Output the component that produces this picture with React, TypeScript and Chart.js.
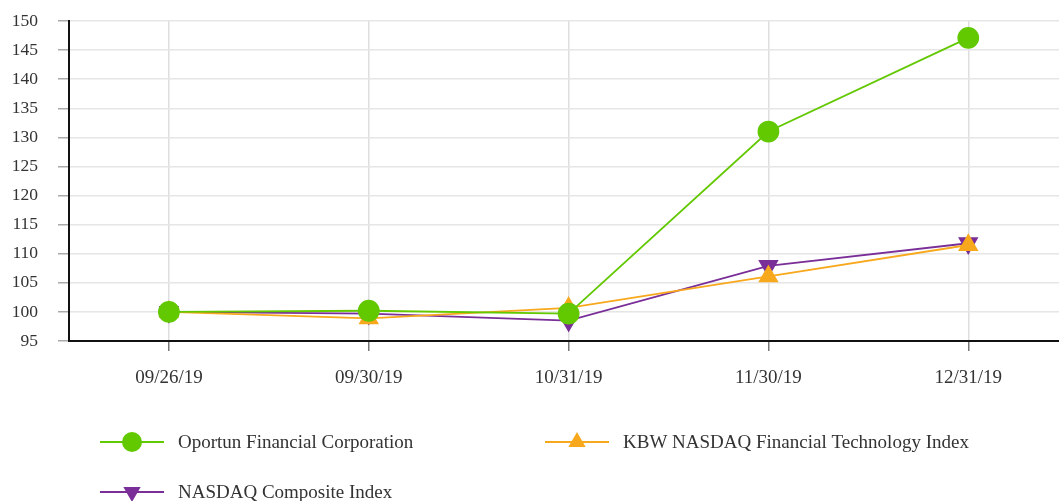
import React, { useEffect, useRef } from "react";
import { Chart, registerables } from "chart.js";

Chart.register(...registerables);

const categories = ["09/26/19", "09/30/19", "10/31/19", "11/30/19", "12/31/19"];
const oportun = [100, 100.2, 99.7, 131.0, 147.1];
const kbw = [100, 98.9, 100.7, 106.1, 111.5];
const nasdaq = [100, 99.7, 98.5, 107.9, 111.8];
const seriesNames = [
  "Oportun Financial Corporation",
  "KBW NASDAQ Financial Technology Index",
  "NASDAQ Composite Index",
];

const FONT = "'Liberation Serif', 'Times New Roman', serif";
const GREEN = "#62c800";
const ORANGE = "#f8a81c";
const PURPLE = "#7a2f98";

const legendPositions = [
  { x: 100, y: 442 },
  { x: 545, y: 442 },
  { x: 100, y: 492 },
];

const customLegend = {
  id: "customLegend",
  afterDraw(chart: any) {
    const ctx = chart.ctx;
    chart.data.datasets.forEach((ds: any, i: number) => {
      const p = legendPositions[i];
      ctx.save();
      ctx.strokeStyle = ds.borderColor;
      ctx.lineWidth = 2;
      ctx.beginPath();
      ctx.moveTo(p.x, p.y);
      ctx.lineTo(p.x + 64, p.y);
      ctx.stroke();
      ctx.fillStyle = ds.pointBackgroundColor;
      const cx = p.x + 32;
      const r = ds.pointRadius;
      ctx.beginPath();
      if (ds.pointStyle === "circle") {
        ctx.arc(cx, p.y, r, 0, Math.PI * 2);
      } else {
        const rot = ((ds.pointRotation || 0) * Math.PI) / 180;
        let a = rot;
        ctx.moveTo(cx + Math.sin(a) * r, p.y - Math.cos(a) * r);
        a += (2 * Math.PI) / 3;
        ctx.lineTo(cx + Math.sin(a) * r, p.y - Math.cos(a) * r);
        a += (2 * Math.PI) / 3;
        ctx.lineTo(cx + Math.sin(a) * r, p.y - Math.cos(a) * r);
        ctx.closePath();
      }
      ctx.fill();
      ctx.fillStyle = "#333";
      ctx.font = `19px ${FONT}`;
      ctx.textBaseline = "middle";
      ctx.textAlign = "left";
      ctx.fillText(ds.label, p.x + 78, p.y + 1);
      ctx.restore();
    });
  },
};

export default function App() {
  const ref = useRef<HTMLCanvasElement>(null);
  useEffect(() => {
    if (!ref.current) return;
    const chart = new Chart(ref.current, {
      type: "line",
      data: {
        labels: categories,
        datasets: [
          {
            label: seriesNames[0],
            data: oportun,
            borderColor: GREEN,
            backgroundColor: GREEN,
            pointBackgroundColor: GREEN,
            pointBorderColor: GREEN,
            pointStyle: "circle",
            pointRadius: 10,
            borderWidth: 1.8,
          },
          {
            label: seriesNames[1],
            data: kbw,
            borderColor: ORANGE,
            backgroundColor: ORANGE,
            pointBackgroundColor: ORANGE,
            pointBorderColor: ORANGE,
            pointStyle: "triangle",
            pointRadius: 10,
            borderWidth: 1.8,
          },
          {
            label: seriesNames[2],
            data: nasdaq,
            borderColor: PURPLE,
            backgroundColor: PURPLE,
            pointBackgroundColor: PURPLE,
            pointBorderColor: PURPLE,
            pointStyle: "triangle",
            pointRotation: 180,
            pointRadius: 10,
            borderWidth: 1.8,
          },
        ] as any,
      },
      options: {
        animation: false,
        responsive: false,
        layout: { padding: { left: 0, top: 21, right: 11, bottom: 100 } },
        plugins: {
          legend: { display: false },
          tooltip: { enabled: false },
        },
        scales: {
          x: {
            offset: true,
            grid: {
              offset: false,
              color: "#dedede",
              lineWidth: 1.5,
              tickColor: "#777",
              tickLength: 10,
            },
            border: { color: "#111", width: 2 },
            ticks: {
              color: "#333",
              font: { family: FONT, size: 19 },
              padding: 16,
              maxRotation: 0,
            },
            afterFit: (s: any) => {
              s.height = 60;
            },
          },
          y: {
            min: 95,
            max: 150,
            ticks: {
              stepSize: 5,
              color: "#333",
              font: { family: FONT, size: 17.5 },
              padding: 20,
            },
            grid: {
              color: "#e6e6e6",
              lineWidth: 1.5,
              tickColor: "#aaa",
              tickLength: 11,
            },
            border: { color: "#111", width: 2 },
            afterFit: (s: any) => {
              s.width = 69;
              s.paddingTop = 0;
              s.paddingBottom = 0;
            },
          },
        },
      },
      plugins: [customLegend],
    });
    return () => chart.destroy();
  }, []);
  return (
    <div
      style={{
        position: "fixed",
        left: 0,
        top: 0,
        width: 1059,
        height: 501,
        overflow: "hidden",
        background: "#fff",
      }}
    >
      <canvas ref={ref} width={1080} height={501} />
    </div>
  );
}
